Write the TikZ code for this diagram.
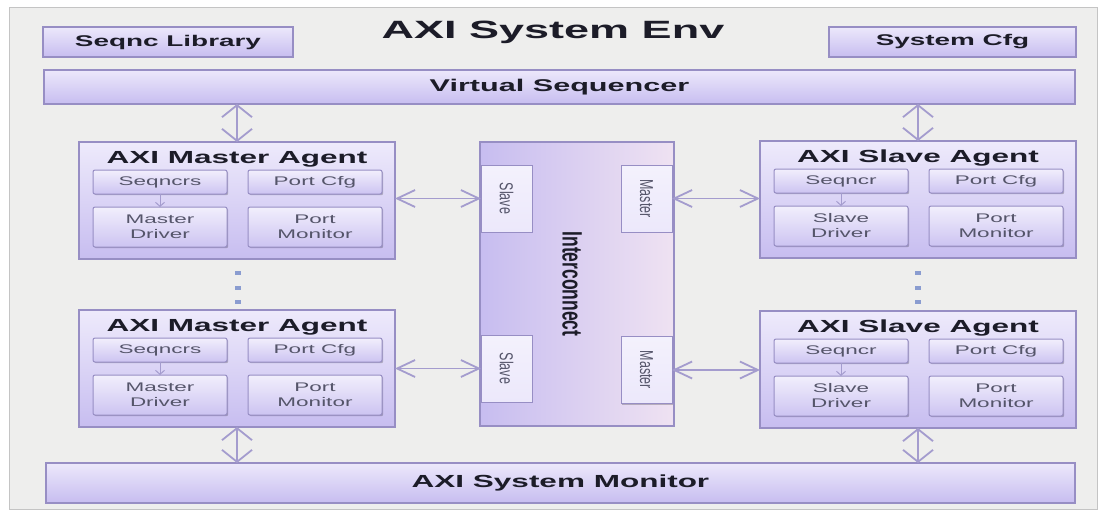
\documentclass[tikz,border=0pt]{standalone}
\usepackage{fontspec}
\setmainfont[FakeStretch=1.8]{Liberation Sans}
\newfontfamily\plainsans{Liberation Sans}
\usetikzlibrary{arrows.meta,shadows}
\definecolor{panel}{HTML}{EEEEED}
\definecolor{panelline}{HTML}{C4C4C4}
\definecolor{boxtop}{HTML}{ECE8FB}
\definecolor{boxbot}{HTML}{C7BDF0}
\definecolor{boxline}{HTML}{978EC4}
\definecolor{arrcol}{HTML}{A49CCE}
\definecolor{dotcol}{HTML}{8A9CD0}
\definecolor{smalltext}{HTML}{55556A}
\definecolor{titletext}{HTML}{1C1C28}
\tikzset{
  panelbox/.style={draw=panelline, line width=1pt, fill=panel, inner sep=0pt, outer sep=0pt},
  blk/.style={draw=boxline, line width=1.2pt, top color=boxtop, bottom color=boxbot,
    inner sep=0pt, outer sep=0pt, text=titletext,
    drop shadow={shadow xshift=1.2pt, shadow yshift=-1.2pt, fill=black, opacity=0.22}},
  agentbox/.style={blk, minimum width=316pt, minimum height=117pt, top color=boxtop!90!white, bottom color=boxbot},
  innerbox/.style={blk, line width=1pt, rounded corners=2pt, minimum width=134pt, text=smalltext,
    align=center, font=\fontsize{12.5}{15}\selectfont, top color=boxtop!70!white, bottom color=boxbot!90!white},
  portbox/.style={blk, line width=1pt, minimum width=51pt, minimum height=67pt, top color=boxtop!60!white, bottom color=boxtop},
  bigtitle/.style={font=\bfseries\fontsize{17.5}{20}\selectfont, text=titletext, inner sep=0pt},
  dotmark/.style={fill=dotcol, draw=none, minimum width=6pt, minimum height=4pt, inner sep=0pt},
  bigarrv/.style={draw=arrcol, line width=1.8pt, {Straight Barb[length=12pt,width=30pt]}-{Straight Barb[length=12pt,width=30pt]}},
  bigarrh/.style={draw=arrcol, line width=1.8pt, {Straight Barb[length=18pt,width=17pt]}-{Straight Barb[length=18pt,width=17pt]}},
  smallarr/.style={draw=arrcol, line width=1pt, -{Straight Barb[length=4pt,width=9pt]}},
}
\newcommand\mkagent[6]{%
  \node[agentbox] (#1) at (#2+158, #3+58.5) {};
  \node[bigtitle] (#1t) at (#2+158, #3+17) {#4};
  \node[innerbox, minimum height=24pt] (#1s) at (#2+81, #3+40) {#5};
  \node[innerbox, minimum height=24pt] (#1c) at (#2+236, #3+40) {Port Cfg};
  \node[innerbox, minimum height=40pt] (#1d) at (#2+81, #3+85) {#6};
  \node[innerbox, minimum height=40pt] (#1m) at (#2+236, #3+85) {Port\\Monitor};
  \draw[smallarr] (#1s) -- (#1d);
}
\begin{document}
\begin{tikzpicture}[x=1pt, y=-1pt]
\path[use as bounding box, fill=white] (0,0) rectangle (1102,512);
\node[panelbox, minimum width=1088pt, minimum height=502pt] (env) at (553,258) {};
\node[font=\bfseries\fontsize{25}{28}\selectfont, text=titletext, inner sep=0pt] (title) at (553,32) {AXI System Env};
\node[blk, minimum width=250pt, minimum height=30pt, font=\bfseries\fontsize{15.5}{18}\selectfont] (lib) at (168,42) {Seqnc Library};
\node[blk, minimum width=247pt, minimum height=30pt, font=\bfseries\fontsize{15.5}{18}\selectfont] (cfg) at (952.5,42) {System Cfg};
\node[blk, minimum width=1031pt, minimum height=34pt, font=\bfseries\fontsize{17}{20}\selectfont] (vseq) at (559.5,87) {Virtual Sequencer};
\node[blk, minimum width=1029pt, minimum height=40pt, font=\bfseries\fontsize{17.5}{20}\selectfont] (mon) at (560.5,483) {AXI System Monitor};

% interconnect
\node[blk, minimum width=194pt, minimum height=284pt, shading angle=0, left color=boxbot, right color=boxtop!85!pink] (ic) at (577,284) {};
\node[rotate=-90, inner sep=0pt, text=titletext] (ict) at (572,284) {\scalebox{1}[1.6]{\plainsans\bfseries\fontsize{17.5}{20}\selectfont Interconnect}};
\node[portbox] (sp1) at (506.5,198.5) {};
\node[portbox] (sp2) at (506.5,368.5) {};
\node[portbox] (mp1) at (646.5,198.5) {};
\node[portbox] (mp2) at (646.5,370) {};
\node[rotate=-90, inner sep=0pt, text=smalltext] (sp1t) at (sp1) {\scalebox{1}[1.5]{\plainsans\fontsize{12.5}{15}\selectfont Slave}};
\node[rotate=-90, inner sep=0pt, text=smalltext] (sp2t) at (sp2) {\scalebox{1}[1.5]{\plainsans\fontsize{12.5}{15}\selectfont Slave}};
\node[rotate=-90, inner sep=0pt, text=smalltext] (mp1t) at (mp1) {\scalebox{1}[1.5]{\plainsans\fontsize{12.5}{15}\selectfont Master}};
\node[rotate=-90, inner sep=0pt, text=smalltext] (mp2t) at (mp2) {\scalebox{1}[1.5]{\plainsans\fontsize{12.5}{15}\selectfont Master}};

% agents
\mkagent{ma}{79}{142}{AXI Master Agent}{Seqncrs}{Master\\Driver}
\mkagent{mb}{79}{310}{AXI Master Agent}{Seqncrs}{Master\\Driver}
\mkagent{sa}{760}{141}{AXI Slave Agent}{Seqncr}{Slave\\Driver}
\mkagent{sb}{760}{311}{AXI Slave Agent}{Seqncr}{Slave\\Driver}

% dots
\node[dotmark] (d1) at (238,273) {};
\node[dotmark] (d2) at (238,288) {};
\node[dotmark] (d3) at (238,302) {};
\node[dotmark] (d4) at (918,273) {};
\node[dotmark] (d5) at (918,288) {};
\node[dotmark] (d6) at (918,302) {};

% arrows
\draw[bigarrv] (vseq.south -| ma) -- (ma.north);
\draw[bigarrv] (vseq.south -| sa) -- (sa.north);
\draw[bigarrv] (mb.south) -- (mon.north -| mb);
\draw[bigarrv] (sb.south) -- (mon.north -| sb);
\draw[bigarrh] (ma.east |- sp1) -- (sp1.west);
\draw[bigarrh] (mb.east |- sp2) -- (sp2.west);
\draw[bigarrh] (mp1.east) -- (sa.west |- mp1);
\draw[bigarrh] (mp2.east) -- (sb.west |- mp2);
\end{tikzpicture}
\end{document}
